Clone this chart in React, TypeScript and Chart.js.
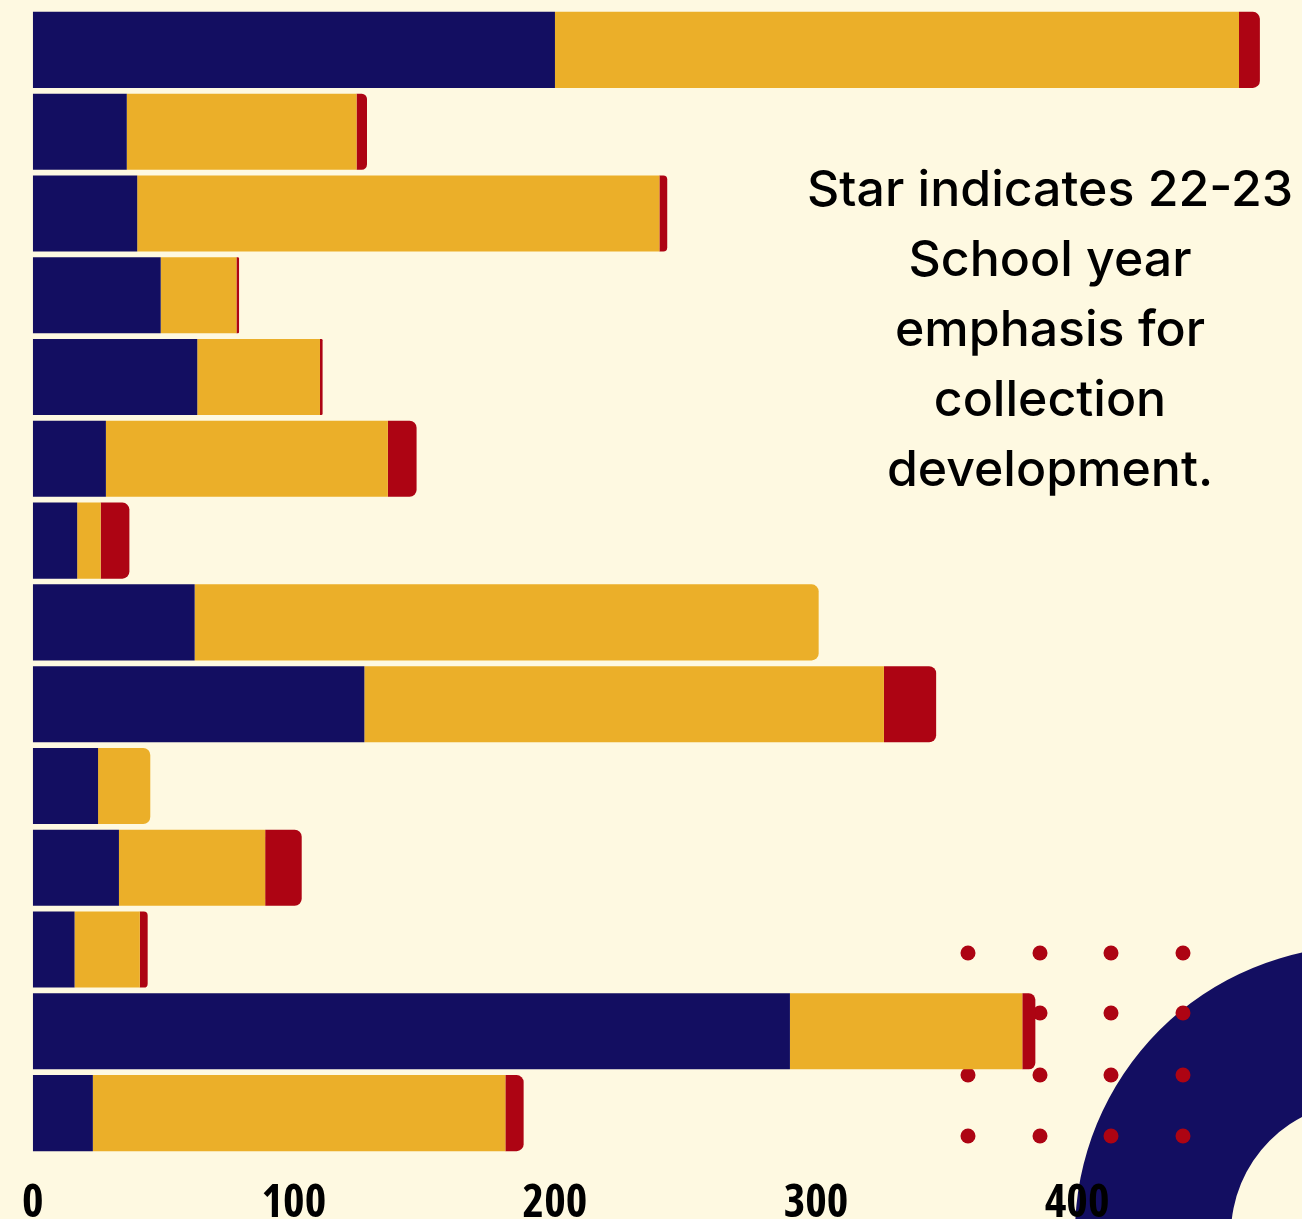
import React, { useEffect, useRef } from "react";
import { Chart, registerables } from "chart.js";

Chart.register(...registerables);

// ---- data ----
const categories = [
  "Row 1", "Row 2", "Row 3", "Row 4", "Row 5", "Row 6", "Row 7",
  "Row 8", "Row 9", "Row 10", "Row 11", "Row 12", "Row 13", "Row 14",
];
const seriesNavy = [200, 36, 40, 49, 63, 28, 17, 62, 127, 25, 33, 16, 290, 23];
const seriesGold = [262, 88, 200, 29, 47, 108, 9, 239, 199, 20, 56, 25, 89, 158];
const seriesRed = [8, 4, 3, 1, 1, 11, 11, 0, 20, 0, 14, 3, 5, 7];
const tickValues = [0, 100, 200, 300, 400];
const noteLines = [
  "Star indicates 22-23",
  "School year",
  "emphasis for",
  "collection",
  "development.",
];

// ---- style ----
const BG = "#FEF9E1";
const NAVY = "#130E61";
const GOLD = "#EBAF29";
const RED = "#AD0413";
const W = 1302;
const H = 1219;

const decorPlugin = {
  id: "decor",
  beforeDraw(chart: any) {
    const { ctx, width, height } = chart;
    ctx.save();
    ctx.fillStyle = BG;
    ctx.fillRect(0, 0, width, height);
    // navy ring in the bottom-right corner
    ctx.fillStyle = NAVY;
    ctx.beginPath();
    ctx.arc(width + 61, height + 15, 288, 0, Math.PI * 2);
    ctx.arc(width + 61, height + 15, 132, 0, Math.PI * 2, true);
    ctx.fill("evenodd");
    // dot grid
    ctx.fillStyle = RED;
    const xs = [968, 1040, 1111, 1183];
    const ys = [953, 1013, 1075, 1136];
    for (const y of ys) {
      for (const x of xs) {
        ctx.beginPath();
        ctx.arc(x, y, 7.5, 0, Math.PI * 2);
        ctx.fill();
      }
    }
    ctx.restore();
  },
};

export default function App() {
  const ref = useRef<HTMLCanvasElement | null>(null);

  useEffect(() => {
    document.body.style.margin = "0";
    document.body.style.background = BG;
    if (!ref.current) return;
    const common = {
      borderRadius: 7,
      barPercentage: 0.93,
      categoryPercentage: 1,
      borderWidth: 0,
    };
    const chart = new Chart(ref.current, {
      type: "bar",
      data: {
        labels: categories,
        datasets: [
          { label: "Series 1", data: seriesNavy, backgroundColor: NAVY, ...common },
          { label: "Series 2", data: seriesGold, backgroundColor: GOLD, ...common },
          { label: "Series 3", data: seriesRed, backgroundColor: RED, ...common },
        ],
      },
      options: {
        indexAxis: "y",
        animation: false,
        responsive: true,
        maintainAspectRatio: false,
        layout: { padding: { top: 9, left: 29, right: 16, bottom: 0 } },
        plugins: {
          legend: { display: false },
          tooltip: { enabled: false },
          title: { display: false },
        },
        scales: {
          x: {
            type: "linear",
            stacked: true,
            min: 0,
            max: 480,
            grid: { display: false },
            border: { display: false },
            afterBuildTicks: (axis: any) => {
              axis.ticks = tickValues.map((v) => ({ value: v }));
            },
            afterFit: (axis: any) => {
              axis.height = 65;
            },
            ticks: {
              color: "#000000",
              padding: 22,
              maxRotation: 0,
              autoSkip: false,
              font: {
                family: "'Open Sans', sans-serif",
                size: 46,
                weight: "condensed bold",
                lineHeight: "40px",
              },
            },
          },
          y: {
            type: "category",
            stacked: true,
            display: false,
            grid: { display: false },
          },
        },
      },
      plugins: [decorPlugin],
    } as any);
    return () => chart.destroy();
  }, []);

  return (
    <div
      style={{
        position: "absolute",
        left: 0,
        top: 0,
        width: W,
        height: H,
        background: BG,
        overflow: "hidden",
      }}
    >
      <canvas ref={ref} style={{ position: "absolute", left: 0, top: 0 }} />
      <div
        style={{
          position: "absolute",
          left: 750,
          top: 153,
          width: 600,
          textAlign: "center",
          fontFamily: "Inter, 'Open Sans', sans-serif",
          fontWeight: 500,
          fontSize: 50,
          lineHeight: "70px",
          color: "#000000",
          whiteSpace: "nowrap",
        }}
      >
        {noteLines.map((l, i) => (
          <div key={i}>{l}</div>
        ))}
      </div>
    </div>
  );
}
